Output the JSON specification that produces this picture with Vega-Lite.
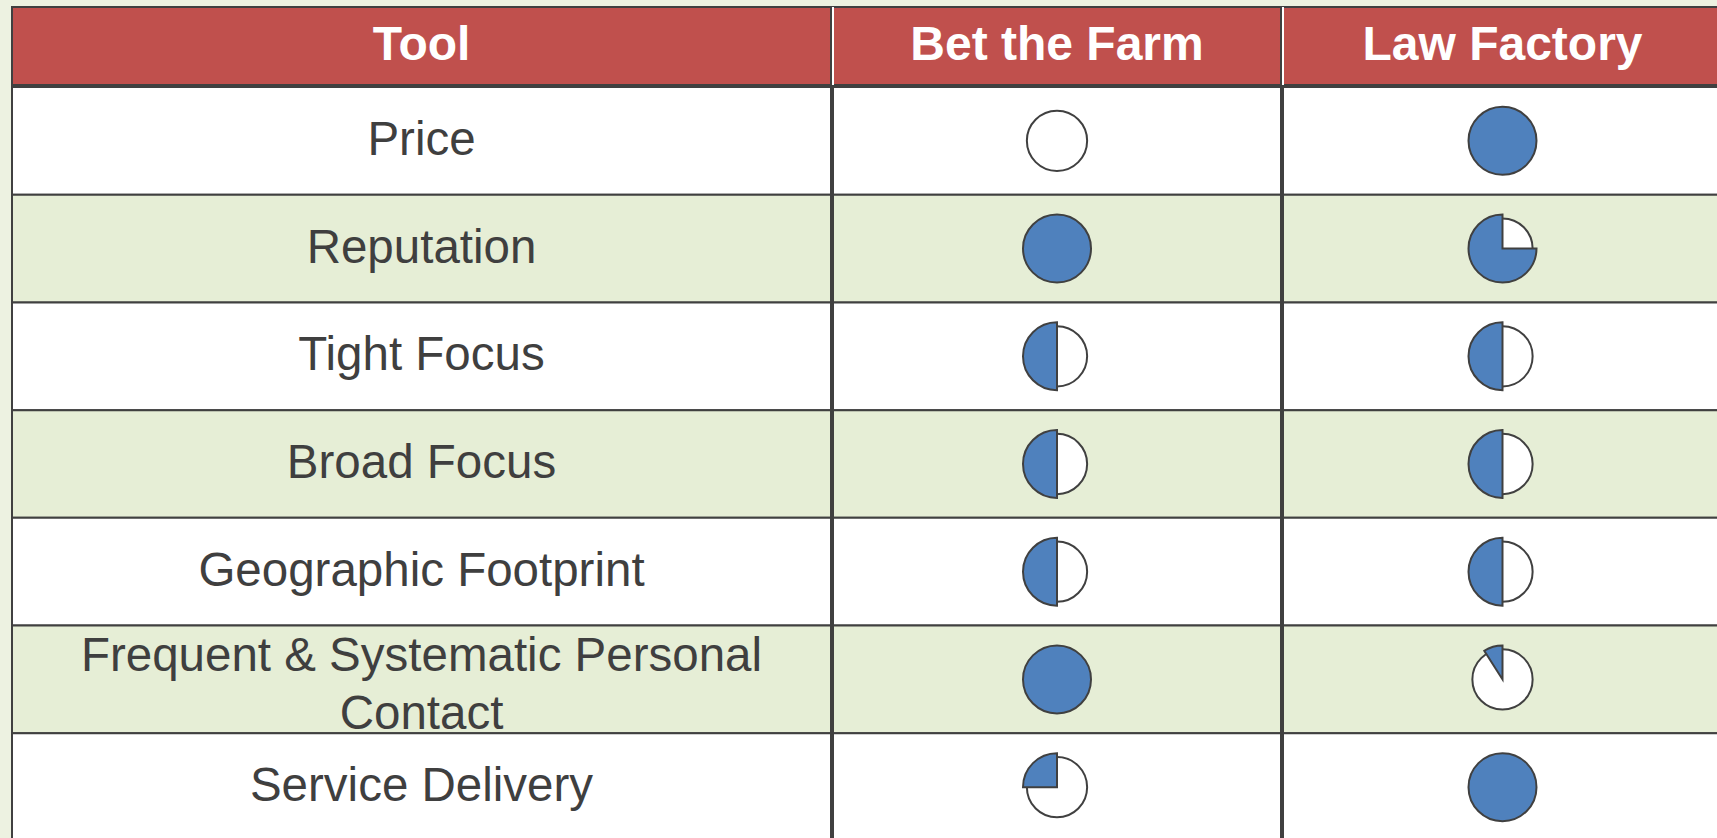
{
  "$schema": "https://vega.github.io/schema/vega-lite/v6.json",
  "background": "#EDF2E1",
  "padding": {"left": 11, "top": 6, "right": 0, "bottom": 0},
  "config": {"view": {"stroke": null}, "concat": {"spacing": 0}},
  "datasets": {
    "table": [
      {"tool": "Price", "label": "Price", "bet": 0, "law": 1},
      {"tool": "Reputation", "label": "Reputation", "bet": 1, "law": 0.75},
      {"tool": "Tight Focus", "label": "Tight Focus", "bet": 0.5, "law": 0.5},
      {"tool": "Broad Focus", "label": "Broad Focus", "bet": 0.5, "law": 0.5},
      {"tool": "Geographic Footprint", "label": "Geographic Footprint", "bet": 0.5, "law": 0.5},
      {"tool": "Frequent", "label": "Frequent & Systematic Personal\nContact", "bet": 1, "law": 0.09},
      {"tool": "Service Delivery", "label": "Service Delivery", "bet": 0.25, "law": 1}
    ]
  },
  "vconcat": [
    {
      "hconcat": [
        {
          "width": 819, "height": 78,
          "data": {"values": [{"h": "Tool"}]},
          "layer": [
            {"mark": {"type": "rect", "fill": "#C0504D", "stroke": "#404040", "strokeWidth": 2},
             "encoding": {"y": {"field": "h", "type": "nominal", "axis": null, "scale": {"paddingInner": 0, "paddingOuter": 0}}}},
            {"mark": {"type": "text", "font": "Liberation Sans", "fontSize": 48, "fontWeight": "bold", "color": "#FFFFFF", "baseline": "middle", "align": "center"},
             "encoding": {"text": {"field": "h"}}}
          ]
        },
        {
          "width": 448, "height": 78,
          "data": {"values": [{"h": "Bet the Farm"}]},
          "layer": [
            {"mark": {"type": "rect", "fill": "#C0504D", "stroke": "#404040", "strokeWidth": 2},
             "encoding": {"y": {"field": "h", "type": "nominal", "axis": null, "scale": {"paddingInner": 0, "paddingOuter": 0}}}},
            {"mark": {"type": "rule", "color": "#FFFFFF", "strokeWidth": 2},
             "encoding": {"x": {"field": "h", "type": "nominal", "axis": null, "bandPosition": 0, "scale": {"paddingInner": 0, "paddingOuter": 0}}}},
            {"mark": {"type": "text", "font": "Liberation Sans", "fontSize": 48, "fontWeight": "bold", "color": "#FFFFFF", "baseline": "middle", "align": "center"},
             "encoding": {"text": {"field": "h"}}}
          ]
        },
        {
          "width": 439, "height": 78,
          "data": {"values": [{"h": "Law Factory"}]},
          "layer": [
            {"mark": {"type": "rect", "fill": "#C0504D", "stroke": "#404040", "strokeWidth": 2},
             "encoding": {"y": {"field": "h", "type": "nominal", "axis": null, "scale": {"paddingInner": 0, "paddingOuter": 0}}}},
            {"mark": {"type": "rule", "color": "#FFFFFF", "strokeWidth": 2},
             "encoding": {"x": {"field": "h", "type": "nominal", "axis": null, "bandPosition": 0, "scale": {"paddingInner": 0, "paddingOuter": 0}}}},
            {"mark": {"type": "text", "font": "Liberation Sans", "fontSize": 48, "fontWeight": "bold", "color": "#FFFFFF", "baseline": "middle", "align": "center"},
             "encoding": {"text": {"field": "h"}}}
          ]
        }
      ]
    },
    {
      "hconcat": [
        {
          "width": 819, "height": 754,
          "data": {"name": "table"},
          "encoding": {
            "y": {"field": "tool", "type": "nominal", "axis": null, "sort": null,
                  "scale": {"domain": ["Price", "Reputation", "Tight Focus", "Broad Focus", "Geographic Footprint", "Frequent", "Service Delivery"], "paddingInner": 0, "paddingOuter": 0}}
          },
          "layer": [
            {"mark": {"type": "rect", "stroke": "#404040", "strokeWidth": 2},
             "encoding": {"fill": {"field": "tool", "type": "nominal", "legend": null,
               "scale": {"domain": ["Price", "Reputation", "Tight Focus", "Broad Focus", "Geographic Footprint", "Frequent", "Service Delivery"],
                         "range": ["#FFFFFF", "#E6EED6", "#FFFFFF", "#E6EED6", "#FFFFFF", "#E6EED6", "#FFFFFF"]}}}},
            {"transform": [{"filter": "datum.tool != 'Frequent'"}],
             "mark": {"type": "text", "font": "Liberation Sans", "fontSize": 47.5, "color": "#3F3F3F", "baseline": "middle", "align": "center"},
             "encoding": {"text": {"field": "label"}}},
            {"transform": [{"filter": "datum.tool == 'Frequent'"}],
             "mark": {"type": "text", "font": "Liberation Sans", "fontSize": 47.5, "color": "#3F3F3F", "baseline": "middle", "align": "center", "lineBreak": "\n", "lineHeight": 58, "dy": -22},
             "encoding": {"text": {"field": "label"}}}
          ]
        },
        {
          "width": 448, "height": 754,
          "data": {"name": "table"},
          "encoding": {
            "y": {"field": "tool", "type": "nominal", "axis": null, "sort": null,
                  "scale": {"domain": ["Price", "Reputation", "Tight Focus", "Broad Focus", "Geographic Footprint", "Frequent", "Service Delivery"], "paddingInner": 0, "paddingOuter": 0}}
          },
          "layer": [
            {"mark": {"type": "rect", "stroke": "#404040", "strokeWidth": 2},
             "encoding": {"fill": {"field": "tool", "type": "nominal", "legend": null,
               "scale": {"domain": ["Price", "Reputation", "Tight Focus", "Broad Focus", "Geographic Footprint", "Frequent", "Service Delivery"],
                         "range": ["#FFFFFF", "#E6EED6", "#FFFFFF", "#E6EED6", "#FFFFFF", "#E6EED6", "#FFFFFF"]}}}},
            {"mark": {"type": "circle", "size": 3632, "opacity": 1, "fill": "#FFFFFF", "stroke": "#404040", "strokeWidth": 2}},
            {"transform": [{"filter": "datum.bet > 0"}],
             "mark": {"type": "arc", "radius": 34, "fill": "#4F81BD", "stroke": "#404040", "strokeWidth": 2},
             "encoding": {"theta": {"field": "bet", "type": "quantitative", "stack": null, "scale": {"domain": [0, 1], "range": [6.2832, 0], "zero": true}}}}
          ]
        },
        {
          "width": 439, "height": 754,
          "data": {"name": "table"},
          "encoding": {
            "y": {"field": "tool", "type": "nominal", "axis": null, "sort": null,
                  "scale": {"domain": ["Price", "Reputation", "Tight Focus", "Broad Focus", "Geographic Footprint", "Frequent", "Service Delivery"], "paddingInner": 0, "paddingOuter": 0}}
          },
          "layer": [
            {"mark": {"type": "rect", "stroke": "#404040", "strokeWidth": 2},
             "encoding": {"fill": {"field": "tool", "type": "nominal", "legend": null,
               "scale": {"domain": ["Price", "Reputation", "Tight Focus", "Broad Focus", "Geographic Footprint", "Frequent", "Service Delivery"],
                         "range": ["#FFFFFF", "#E6EED6", "#FFFFFF", "#E6EED6", "#FFFFFF", "#E6EED6", "#FFFFFF"]}}}},
            {"mark": {"type": "circle", "size": 3632, "opacity": 1, "fill": "#FFFFFF", "stroke": "#404040", "strokeWidth": 2}},
            {"transform": [{"filter": "datum.law > 0"}],
             "mark": {"type": "arc", "radius": 34, "fill": "#4F81BD", "stroke": "#404040", "strokeWidth": 2},
             "encoding": {"theta": {"field": "law", "type": "quantitative", "stack": null, "scale": {"domain": [0, 1], "range": [6.2832, 0], "zero": true}}}}
          ]
        }
      ]
    }
  ]
}
